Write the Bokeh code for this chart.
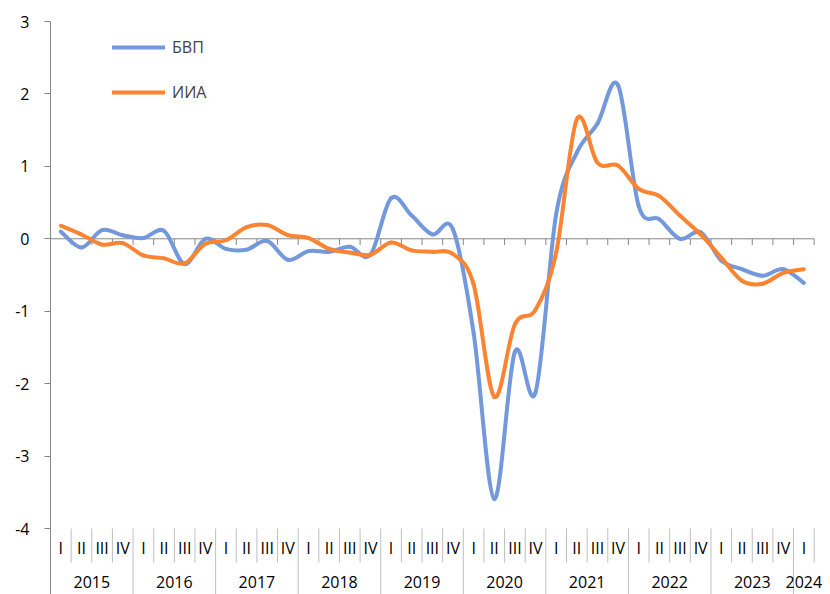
import numpy as np
from bokeh.plotting import figure
from bokeh.models import Range1d, FixedTicker, ColumnDataSource, Legend, LegendItem
from bokeh.core.properties import value
from bokeh.embed import file_html
from bokeh.resources import INLINE

# ---------------- data ----------------
quarters = ["I", "II", "III", "IV"] * 9 + ["I"]
years = ["2015", "2016", "2017", "2018", "2019", "2020", "2021", "2022", "2023", "2024"]
year_sizes = [4, 4, 4, 4, 4, 4, 4, 4, 4, 1]

gdp = [0.10, -0.12, 0.12, 0.05,
       0.01, 0.11, -0.35, 0.00,
       -0.14, -0.15, -0.03, -0.29,
       -0.17, -0.18, -0.11, -0.22,
       0.56, 0.32, 0.06, 0.13,
       -1.30, -3.59, -1.56, -2.12,
       0.34, 1.19, 1.59, 2.12,
       0.45, 0.27, 0.00, 0.09,
       -0.30, -0.42, -0.51, -0.42,
       -0.61]
iia = [0.18, 0.06, -0.08, -0.06,
       -0.23, -0.27, -0.34, -0.07,
       -0.02, 0.16, 0.19, 0.05,
       0.01, -0.14, -0.19, -0.22,
       -0.05, -0.16, -0.18, -0.21,
       -0.63, -2.18, -1.18, -0.98,
       -0.19, 1.65, 1.05, 1.01,
       0.69, 0.59, 0.32, 0.06,
       -0.26, -0.58, -0.62, -0.47,
       -0.42]
series_names = ["БВП", "ИИА"]
yticks = [-4, -3, -2, -1, 0, 1, 2, 3]

# ---------------- styling ----------------
FONT = "Open Sans"
BLUE = "#7398DC"
ORANGE = "#FA8432"
AXIS = "#868686"
SEP = "#BFBFBF"

n = len(quarters)
xs = np.arange(n) + 0.5


def smooth_source(ys):
    """Bezier segments (Catmull-Rom style, like a spreadsheet 'smoothed line')."""
    P = np.column_stack([xs, np.asarray(ys, dtype=float)])
    d = dict(x0=[], y0=[], x1=[], y1=[], cx0=[], cy0=[], cx1=[], cy1=[])
    for i in range(n - 1):
        p0, p1 = P[i], P[i + 1]
        pm = P[i - 1] if i > 0 else P[i]
        p2 = P[i + 2] if i + 2 < n else P[i + 1]
        c0 = p0 + (p1 - pm) / 6.0
        c1 = p1 - (p2 - p0) / 6.0
        d["x0"].append(p0[0]); d["y0"].append(p0[1])
        d["x1"].append(p1[0]); d["y1"].append(p1[1])
        d["cx0"].append(c0[0]); d["cy0"].append(c0[1])
        d["cx1"].append(c1[0]); d["cy1"].append(c1[1])
    return ColumnDataSource(d)


YMIN = -4.911
p = figure(width=830, height=594, output_backend="svg", toolbar_location=None,
           x_range=Range1d(0, n + 0.5), y_range=Range1d(YMIN, 3.0),
           x_axis_type=None,
           min_border_left=50, min_border_right=6, min_border_top=21, min_border_bottom=0)
p.grid.visible = False
p.outline_line_color = None
p.background_fill_color = "white"

yax = p.yaxis[0]
yax.ticker = FixedTicker(ticks=yticks)
yax.major_label_overrides = {t: str(t) for t in yticks}
yax.axis_line_color = AXIS
yax.major_tick_line_color = AXIS
yax.major_tick_in = 0
yax.major_tick_out = 6
yax.minor_tick_line_color = None
yax.major_label_standoff = 15
yax.major_label_text_font = FONT
yax.major_label_text_font_size = "16px"
yax.major_label_text_color = "#000000"

# zero line with category tick marks
bounds = np.arange(1, n + 1)
p.segment(x0=[0], y0=[0], x1=[n], y1=[0], line_color=AXIS, line_width=1)
p.segment(x0=bounds, y0=np.zeros(len(bounds)), x1=bounds, y1=np.full(len(bounds), -0.085),
          line_color=AXIS, line_width=1)

# category separators below the plot
year_starts = np.cumsum([0] + year_sizes)[1:-1]
short = [b for b in bounds if b not in set(year_starts)]
p.segment(x0=short, y0=[-4.0] * len(short), x1=short, y1=[-4.47] * len(short),
          line_color=SEP, line_width=1)
p.segment(x0=year_starts, y0=[-4.0] * len(year_starts), x1=year_starts,
          y1=[YMIN] * len(year_starts), line_color=SEP, line_width=1)

# quarter and year labels
p.text(x=xs, y=[-4.27] * n, text=quarters, text_align="center", text_baseline="middle",
       text_font=value(FONT), text_font_size="16px", text_color="#000000")
starts = np.cumsum([0] + year_sizes)[:-1]
ycent = [s + sz / 2.0 for s, sz in zip(starts, year_sizes)]
p.text(x=ycent, y=[-4.74] * len(years), text=years, text_align="center", text_baseline="middle",
       text_font=value(FONT), text_font_size="16px", text_color="#000000")

# series
r1 = p.bezier(x0="x0", y0="y0", x1="x1", y1="y1", cx0="cx0", cy0="cy0", cx1="cx1", cy1="cy1",
              source=smooth_source(gdp), line_color=BLUE, line_width=4, line_cap="round")
r2 = p.bezier(x0="x0", y0="y0", x1="x1", y1="y1", cx0="cx0", cy0="cy0", cx1="cx1", cy1="cy1",
              source=smooth_source(iia), line_color=ORANGE, line_width=4, line_cap="round")

legend = Legend(items=[LegendItem(label=series_names[0], renderers=[r1]),
                       LegendItem(label=series_names[1], renderers=[r2])],
                location=(62, 491), border_line_color=None, background_fill_alpha=0,
                padding=0, margin=0, spacing=23, glyph_width=53, glyph_height=20,
                label_height=20, label_standoff=7, label_text_font=FONT,
                label_text_font_size="16px")
p.add_layout(legend)

open("out.html", "w").write(file_html(p, INLINE))
